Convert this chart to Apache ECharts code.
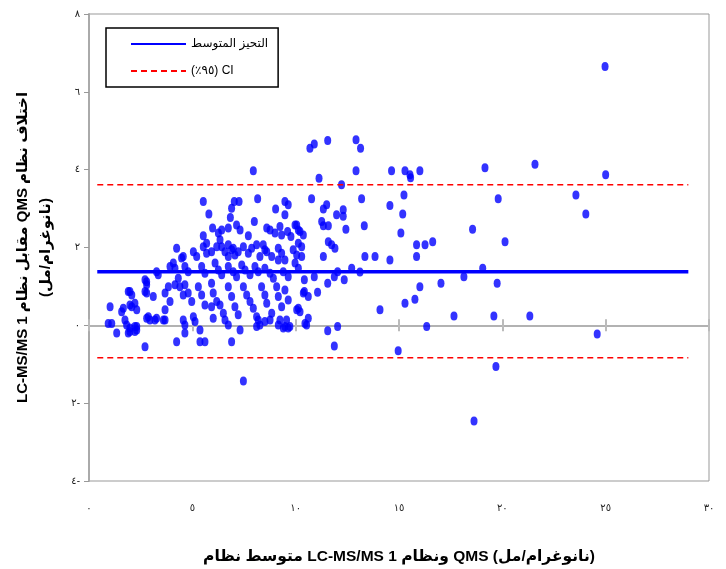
<!DOCTYPE html>
<html><head><meta charset="utf-8">
<script src="https://cdn.jsdelivr.net/npm/echarts@6/dist/echarts.min.js"></script>
<style>html,body{margin:0;padding:0;background:#fff}#c{width:726px;height:569px}</style>
</head><body><div id="c"></div>
<script>
// x = mean of the two systems, y = difference
const points = [
[24.97,6.65],[14.64,3.97],[15.29,3.97],[15.53,3.87],[15.56,3.79],[16.01,3.97],[19.16,4.05],[21.58,4.14],[25.0,3.87],[15.24,3.35],[14.56,3.08],[15.18,2.86],[19.8,3.25],[23.56,3.35],[24.04,2.86],[15.09,2.37],[18.56,2.47],[15.85,2.07],[16.26,2.07],[16.63,2.15],[20.13,2.15],[15.85,1.77],[14.56,1.68],[19.05,1.47],[18.14,1.25],[16.01,0.99],[17.03,1.08],[19.75,1.08],[15.77,0.67],[15.29,0.57],[14.08,0.40],[17.66,0.24],[19.59,0.24],[21.33,0.24],[16.34,-0.03],[24.59,-0.22],[14.96,-0.65],[19.69,-1.06],[18.63,-2.46],
[10.69,4.55],[10.9,4.66],[11.55,4.75],[12.92,4.77],[13.14,4.55],[12.92,3.97],[11.13,3.78],[12.22,3.61],[10.77,3.25],[13.19,3.25],[11.34,2.99],[11.5,3.1],[11.98,2.84],[12.3,2.97],[12.3,2.8],[11.26,2.67],[11.34,2.56],[11.58,2.56],[12.43,2.47],[13.32,2.56],[11.58,2.15],[11.74,2.07],[11.9,1.98],[10.05,2.58],[10.21,2.41],[10.37,2.32],[10.13,2.11],[10.29,2.02],[11.34,1.77],[13.35,1.77],[13.84,1.77],
[10.29,1.77],[10.13,1.47],[9.97,1.6],[10.42,1.17],[10.9,1.25],[11.55,1.08],[11.87,1.25],[12.03,1.38],[12.35,1.17],[12.71,1.47],[13.11,1.37],[10.42,0.87],[10.61,0.74],[11.06,0.85],[10.13,0.44],[10.21,0.35],[10.61,0.18],[10.45,0.05],[10.53,0.01],[11.55,-0.14],[12.03,-0.03],[11.87,-0.53],
[7.95,3.97],[5.53,3.18],[5.80,2.86],[6.9,3.01],[7.03,3.18],[7.26,3.18],[6.84,2.77],[8.16,3.25],[8.0,2.67],[9.03,2.99],[9.48,3.18],[9.64,3.1],[9.48,2.84],
[5.98,2.5],[6.26,2.37],[5.53,2.3],[6.42,2.45],[6.74,2.5],[7.14,2.58],[7.31,2.45],[7.71,2.3],[8.6,2.5],[8.76,2.45],[9.24,2.54],[9.32,2.32],[9.97,2.58],[10.13,2.45],[9.61,2.41],[9.77,2.28],
[4.24,1.98],[4.56,1.77],[5.05,1.89],[5.21,1.77],[5.53,2.02],[5.69,1.85],[5.93,1.89],[6.18,2.02],[6.42,2.02],[6.58,1.89],[6.74,1.77],[6.98,1.98],[7.22,1.89],[7.47,2.02],[7.71,1.85],[7.87,1.98],[8.11,2.07],[8.27,1.77],[8.51,1.94],[9.16,1.98],[9.32,1.85],[9.16,1.68],[9.48,1.68],
[3.92,1.51],[4.08,1.6],[3.27,1.38],[3.35,1.3],[4.64,1.51],[4.8,1.38],[5.45,1.51],[5.61,1.34],[6.1,1.6],[6.26,1.42],[6.42,1.3],[6.74,1.51],[6.98,1.38],[7.14,1.25],[7.39,1.55],[7.55,1.42],[7.79,1.3],[8.03,1.51],[8.19,1.38],[8.51,1.47],[8.76,1.34],[8.92,1.21],[9.4,1.38],[9.64,1.25],
[1.98,0.87],[2.07,0.78],[2.79,1.12],[2.79,0.83],[3.11,0.74],[3.68,0.83],[3.84,0.99],[3.92,0.61],[4.16,1.04],[4.4,0.99],[4.56,0.78],[4.64,1.04],[4.8,0.83],[4.97,0.61],[5.29,0.99],[5.45,0.78],[5.61,0.52],[5.93,1.08],[6.01,0.83],[6.18,0.61],[6.34,0.52],[6.5,0.31],[6.74,0.99],[6.9,0.74],[7.06,0.48],[7.22,0.27],[7.47,0.99],[7.63,0.78],[7.79,0.61],[7.95,0.44],[8.11,0.22],[8.35,0.99],[8.51,0.78],[8.6,0.57],[8.84,0.31],[8.76,0.14],[9.08,0.99],[9.16,0.74],[9.32,0.48],[9.48,0.91],[9.64,0.65],[9.56,0.14],[9.72,-0.03],[10.05,0.4],[10.37,0.83],
[1.02,0.48],[1.1,0.05],[0.93,0.05],[1.34,-0.2],[1.58,0.35],[1.74,0.14],[1.82,0.01],[1.98,-0.16],[2.22,-0.03],[2.31,-0.12],[2.07,0.48],[2.22,0.57],[2.79,0.18],[2.95,0.14],[3.19,0.14],[3.68,0.4],[3.68,0.14],[4.56,0.14],[4.64,0.01],[2.71,-0.55],[4.24,-0.42],[4.64,-0.2],[5.05,0.22],[5.13,0.1],[5.37,-0.12],[5.37,-0.42],[5.61,-0.42],[5.93,0.48],[6.01,0.18],[6.9,-0.42],[7.31,-0.12],[6.58,0.14],[6.74,0.01],[8.19,0.14],[8.27,0.01],[8.51,0.1],[9.24,0.14],[9.4,-0.07],[9.64,-0.07],
[5.69,2.11],[6.34,2.2],[9.0,2.37],[6.74,2.07],[6.9,1.94],[7.06,1.81],[8.43,2.07],[8.6,1.89],[8.84,1.77],[9.88,1.94],[10.05,1.81],
[7.47,-1.43],[8.11,-0.03],[9.16,0.01],[9.48,-0.03],
[1.66,0.44],[1.9,-0.2],[1.98,-0.07],[1.9,0.87],[1.98,0.52],[2.31,0.4],[2.31,-0.03],[2.22,-0.16],[2.87,0.22],[3.27,0.18],[3.6,0.14],[2.71,1.17],[2.79,1.04],[2.71,0.87],[4.16,1.47],[4.32,1.21],[4.48,1.73]
];
const lineStartX = 0.4, lineEndX = 29.0;
const meanBias = 1.38;
const ciUpper = 3.61;
const ciLower = -0.83;
const xTicks = [0, 5, 10, 15, 20, 25, 30];
const yTicks = [-4, -2, 0, 2, 4, 6, 8];
const meanName = 'التحيز المتوسط';
const ciName = '(٪٩٥) CI';
const xTitle = 'متوسط نظام LC-MS/MS 1 ونظام QMS (نانوغرام/مل)';
const yTitle = 'LC-MS/MS 1 مقابل نظام QMS اختلاف نظام\n(نانوغرام/مل)';

const AD = '٠١٢٣٤٥٦٧٨٩';
function toAr(v){ const s = String(Math.abs(v)).split('').map(c => AD[+c]).join(''); return v < 0 ? s + '-' : s; }

const FONT = '"Liberation Sans", "DejaVu Sans", sans-serif';
const chart = echarts.init(document.getElementById('c'), null, {renderer:'canvas'});
const baseX = {
  type:'value', min:xTicks[0], max:xTicks[xTicks.length-1], interval:5,
  splitLine:{show:false}
};
chart.setOption({
  animation:false,
  textStyle:{fontFamily:FONT},
  grid:{left:89, right:17, top:14, bottom:88, show:true, borderColor:'#999', borderWidth:1, containLabel:false, outerBoundsMode:'none'},
  legend:{
    left:106, top:28, orient:'vertical', padding:[10,10,10,24], itemGap:15,
    itemWidth:55, itemHeight:14, borderColor:'#000', borderWidth:1.5,
    backgroundColor:'#fff',
    itemStyle:{opacity:0},
    textStyle:{fontSize:12, color:'#000', fontFamily:FONT},
    data:[meanName, ciName]
  },
  xAxis:[
    Object.assign({}, baseX, {
      position:'bottom',
      axisLine:{show:false, onZero:false},
      axisTick:{show:false},
      axisLabel:{show:true, margin:22, fontSize:10, color:'#222', formatter:v => toAr(v)},
      name:xTitle, nameLocation:'middle', nameGap:68,
      nameTextStyle:{fontSize:15.5, fontWeight:'bold', color:'#000', fontFamily:FONT}
    }),
    Object.assign({}, baseX, {
      position:'bottom',
      axisLine:{show:true, onZero:true, onZeroAxisIndex:0, lineStyle:{color:'#999', width:1.5}},
      axisTick:{show:true, inside:true, length:6, lineStyle:{color:'#bbb', width:2}},
      axisLabel:{show:false}
    }),
    Object.assign({}, baseX, {
      position:'bottom',
      axisLine:{show:false, onZero:true, onZeroAxisIndex:0},
      axisTick:{show:true, inside:false, length:6, lineStyle:{color:'#bbb', width:2}},
      axisLabel:{show:false}
    })
  ],
  yAxis:{
    type:'value', min:yTicks[0], max:yTicks[yTicks.length-1], interval:2,
    axisLine:{show:true, onZero:false, lineStyle:{color:'#aaa', width:2}},
    axisTick:{show:true, inside:false, length:5, lineStyle:{color:'#999', width:1}},
    axisLabel:{margin:9, fontSize:10, color:'#222', formatter:v => toAr(v)},
    splitLine:{show:false},
    name:yTitle, nameLocation:'middle', nameRotate:90, nameGap:32,
    nameTextStyle:{fontSize:15, fontWeight:'bold', color:'#000', lineHeight:23, fontFamily:FONT}
  },
  series:[
    {type:'scatter', name:'pts', xAxisIndex:0, data:points, symbol:'circle', symbolSize:[7,9],
     itemStyle:{color:'#0000ff'}, z:2},
    {type:'line', name:meanName, xAxisIndex:0, data:[[lineStartX, meanBias],[lineEndX, meanBias]],
     symbol:'none', lineStyle:{color:'#0000ff', width:3.5}, itemStyle:{color:'#0000ff'}, z:3},
    {type:'line', name:ciName, xAxisIndex:0, data:[[lineStartX, ciUpper],[lineEndX, ciUpper]],
     symbol:'none', lineStyle:{color:'#ff0000', width:1.5, type:[6,4]}, itemStyle:{color:'#ff0000'}, z:3},
    {type:'line', name:ciName, xAxisIndex:0, data:[[lineStartX, ciLower],[lineEndX, ciLower]],
     symbol:'none', lineStyle:{color:'#ff0000', width:1.5, type:[6,4]}, itemStyle:{color:'#ff0000'}, z:3}
  ]
});
</script></body></html>
